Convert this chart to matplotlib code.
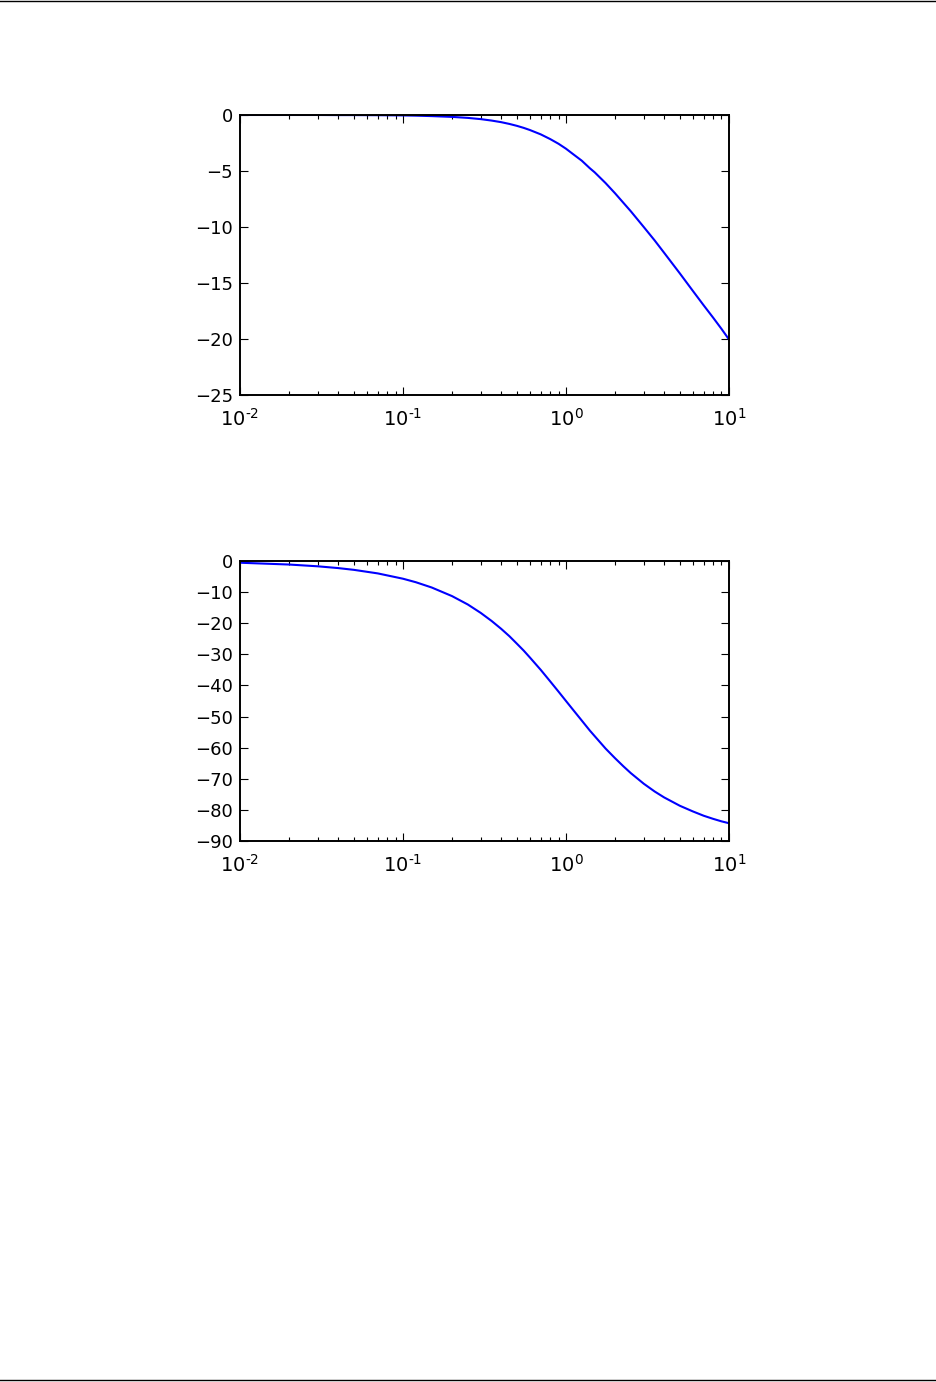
import matplotlib
matplotlib.use('Agg')
import matplotlib.pyplot as plt
from matplotlib.lines import Line2D
from matplotlib.ticker import FuncFormatter
import math

# values (frequency, gain in dB, phase in degrees)
freq = [0.01, 0.02, 0.03, 0.04, 0.05, 0.07, 0.1, 0.12, 0.15, 0.2, 0.25, 0.3, 0.35,
        0.4, 0.45, 0.5, 0.55, 0.6, 0.7, 0.8, 0.9, 1.0, 1.1, 1.25, 1.4, 1.5, 1.75,
        2.0, 2.25, 2.5, 3.0, 3.5, 4.0, 5.0, 6.0, 7.0, 8.0, 9.0, 10.0]
gain = [0.0, 0.0, 0.0, -0.01, -0.01, -0.02, -0.04, -0.06, -0.1, -0.17, -0.26, -0.37,
        -0.5, -0.64, -0.8, -0.97, -1.15, -1.34, -1.73, -2.15, -2.57, -3.01, -3.47,
        -4.08, -4.75, -5.12, -6.08, -6.99, -7.84, -8.6, -10.0, -11.2, -12.3, -14.15,
        -15.7, -17.0, -18.1, -19.1, -20.04]
phase = [-0.57, -1.15, -1.72, -2.29, -2.86, -4.0, -5.71, -6.84, -8.53, -11.3, -14.0,
         -16.7, -19.3, -21.8, -24.2, -26.6, -28.8, -31.0, -35.0, -38.7, -42.0, -45.0,
         -47.7, -51.3, -54.5, -56.3, -60.3, -63.4, -66.0, -68.2, -71.6, -74.1, -76.0,
         -78.7, -80.5, -81.9, -82.9, -83.7, -84.3]

gain_ticks = [0, -5, -10, -15, -20, -25]
phase_ticks = [0, -10, -20, -30, -40, -50, -60, -70, -80, -90]

plt.rcParams['font.family'] = 'DejaVu Sans'
plt.rcParams['font.size'] = 13


def decade_label(v, pos):
    e = int(round(math.log10(v)))
    return r'$10^{%s}$' % str(e).replace('-', '\u2010')


fig = plt.figure(figsize=(9.36, 13.82), dpi=100)

# page rules at top and bottom
fig.add_artist(Line2D([0, 1], [0.9995, 0.9995], color='black', lw=1.0))
fig.add_artist(Line2D([0, 1], [0.0012, 0.0012], color='black', lw=1.0))

ax1 = fig.add_axes([0.2564, 0.7142, 0.5224, 0.2026])
ax2 = fig.add_axes([0.2564, 0.3915, 0.5224, 0.2026])

for ax, y, ticks in [(ax1, gain, gain_ticks), (ax2, phase, phase_ticks)]:
    ax.semilogx(freq, y, color='#0000ff', lw=1.5)
    ax.set_xlim(0.01, 10)
    ax.set_ylim(min(ticks), max(ticks))
    ax.set_yticks(ticks)
    ax.xaxis.set_major_formatter(FuncFormatter(decade_label))
    ax.tick_params(which='both', direction='in', top=True, right=True, width=0.8)
    ax.tick_params(which='major', length=6, pad=5)
    ax.tick_params(axis='x', which='major', pad=9, labelsize=14)
    ax.tick_params(which='minor', length=3)
    for s in ax.spines.values():
        s.set_linewidth(1.4)

fig.savefig('out.png', dpi=100)
